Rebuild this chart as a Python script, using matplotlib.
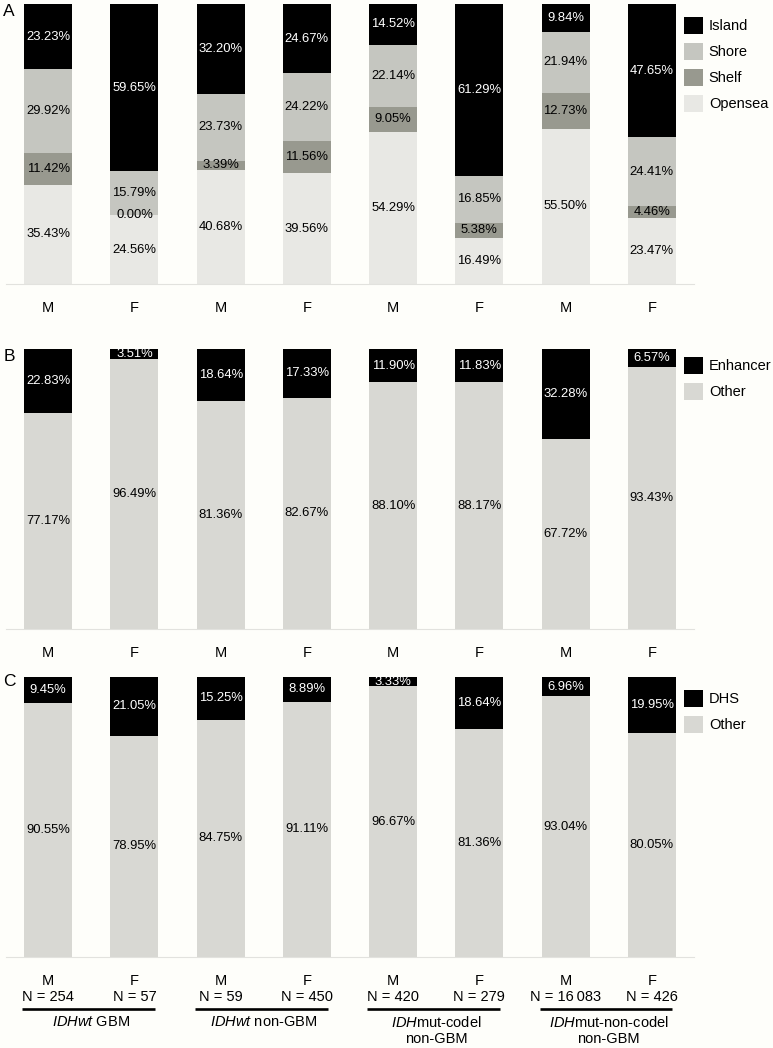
# Methylation probe distribution by sex across glioma subtypes (panels A-C)
import matplotlib.pyplot as plt
import matplotlib.transforms as mtransforms
from matplotlib.patches import Patch
import numpy as np

plt.rcParams['font.family'] = ['Liberation Sans', 'DejaVu Sans']
plt.rcParams['mathtext.fontset'] = 'custom'
plt.rcParams['mathtext.rm'] = 'Liberation Sans'
plt.rcParams['mathtext.it'] = 'Liberation Sans:italic'

# data
sex = ['M', 'F', 'M', 'F', 'M', 'F', 'M', 'F']
n_cases = ['254', '57', '59', '450', '420', '279', '16\u2009083', '426']
groups = [r'$\mathit{IDHwt}$ GBM', r'$\mathit{IDHwt}$ non-GBM',
          '$\\mathit{IDH}$mut-codel\nnon-GBM', '$\\mathit{IDH}$mut-non-codel\nnon-GBM']

# panel A (CpG island context)
island = [23.23, 59.65, 32.20, 24.67, 14.52, 61.29, 9.84, 47.65]
shore = [29.92, 15.79, 23.73, 24.22, 22.14, 16.85, 21.94, 24.41]
shelf = [11.42, 0.00, 3.39, 11.56, 9.05, 5.38, 12.73, 4.46]
opensea = [35.43, 24.56, 40.68, 39.56, 54.29, 16.49, 55.50, 23.47]

# panel B (enhancers)
enhancer = [22.83, 3.51, 18.64, 17.33, 11.90, 11.83, 32.28, 6.57]
enh_other = [77.17, 96.49, 81.36, 82.67, 88.10, 88.17, 67.72, 93.43]

# panel C (DNase hypersensitive sites)
dhs = [9.45, 21.05, 15.25, 8.89, 3.33, 18.64, 6.96, 19.95]
dhs_other = [90.55, 78.95, 84.75, 91.11, 96.67, 81.36, 93.04, 80.05]

BLACK = '#000000'
SHORE = '#c5c6c0'
SHELF = '#98998f'
OPENSEA = '#e8e8e4'
OTHER = '#d8d8d3'
BG = '#fefefa'

W, H = 773, 1048
fig = plt.figure(figsize=(W / 100, H / 100), dpi=100, facecolor=BG)

x = np.arange(8)
bar_w = 0.557


def make_ax(top_px, pad=12):
    ax = fig.add_axes([6 / W, (H - top_px - 280) / H, 688 / W, 280 / H])
    ax.set_facecolor(BG)
    ax.set_xlim(-0.49, 7.49)
    ax.set_ylim(0, 100)
    for s in ['top', 'left', 'right']:
        ax.spines[s].set_visible(False)
    ax.spines['bottom'].set_color('#e2e2de')
    ax.spines['bottom'].set_linewidth(0.8)
    ax.set_yticks([])
    ax.tick_params(axis='x', length=0, pad=pad, labelsize=10.5)
    return ax


def stack(ax, series, colors):
    bottom = np.zeros(8)
    for vals, col in zip(series, colors):
        vals = np.array(vals)
        ax.bar(x, vals, bar_w, bottom=bottom, color=col, linewidth=0)
        txt_col = 'white' if col == BLACK else 'black'
        for i in range(8):
            ax.text(x[i], bottom[i] + vals[i] / 2, f'{vals[i]:.2f}%', ha='center', va='center',
                    fontsize=9.4, color=txt_col)
        bottom += vals


def legend(ax, labels, colors, top_px):
    handles = [Patch(facecolor=c, edgecolor='none') for c in colors]
    ax.legend(handles, labels, loc='upper left', bbox_to_anchor=(684 / W, 1 - top_px / H),
              bbox_transform=fig.transFigure, frameon=False, fontsize=10.5,
              handlelength=1.3, handleheight=1.4, labelspacing=0.62, handletextpad=0.4,
              borderpad=0, borderaxespad=0)


# A
axA = make_ax(4)
stack(axA, [opensea, shelf, shore, island], [OPENSEA, SHELF, SHORE, BLACK])
axA.set_xticks(x, sex)
legend(axA, ['Island', 'Shore', 'Shelf', 'Opensea'], [BLACK, SHORE, SHELF, OPENSEA], 17)

# B
axB = make_ax(349)
stack(axB, [enh_other, enhancer], [OTHER, BLACK])
axB.set_xticks(x, sex)
legend(axB, ['Enhancer', 'Other'], [BLACK, OTHER], 357)

# C
axC = make_ax(677, pad=12)
stack(axC, [dhs_other, dhs], [OTHER, BLACK])
axC.set_xticks(x, [f'{s}\nN = {n}' for s, n in zip(sex, n_cases)])
for lbl in axC.get_xticklabels():
    lbl.set_linespacing(1.25)
legend(axC, ['DHS', 'Other'], [BLACK, OTHER], 690)

# group underlines and names
trans = mtransforms.blended_transform_factory(axC.transData, axC.transAxes)
for g, name in enumerate(groups):
    axC.plot([2 * g - 0.3, 2 * g + 1.24], [-0.186, -0.186], color='black', lw=1.9,
             transform=trans, clip_on=False, solid_capstyle='butt')
    axC.text(2 * g + 0.5, -0.208, name, transform=trans, ha='center', va='top',
             fontsize=10.5, linespacing=1.15)

# panel letters
for letter, y_px in [('A', 12), ('B', 356), ('C', 682)]:
    fig.text(9 / W, 1 - y_px / H, letter, ha='center', va='center', fontsize=12.5)

fig.savefig('out.png', dpi=100, facecolor=BG)
